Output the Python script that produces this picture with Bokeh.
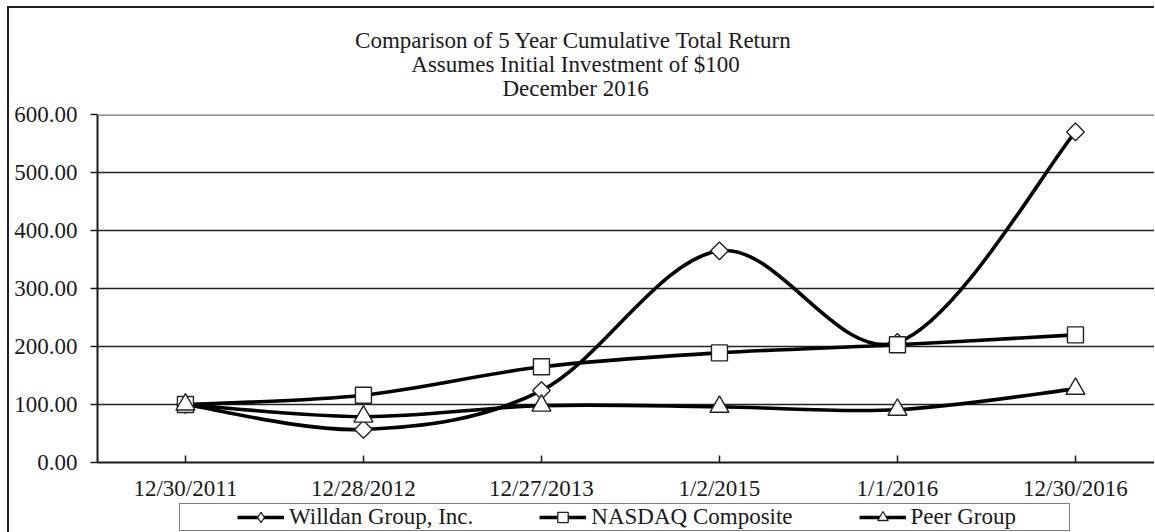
import math
from bokeh.plotting import figure
from bokeh.layouts import column
from bokeh.models import (Range1d, FixedTicker, NumeralTickFormatter, Legend, LegendItem,
                          Title, Span, ColumnDataSource)
from bokeh.embed import file_html
from bokeh.resources import INLINE

# ---------------- data ----------------
dates = ["12/30/2011", "12/28/2012", "12/27/2013", "1/2/2015", "1/1/2016", "12/30/2016"]
willdan = [100.0, 57.0, 124.0, 365.0, 207.0, 570.0]
nasdaq = [100.0, 116.0, 165.0, 189.0, 203.0, 220.0]
peer = [100.0, 79.0, 98.0, 96.0, 91.0, 127.0]
series_names = ["Willdan Group, Inc.", "NASDAQ Composite", "Peer Group"]
y_ticks = [0, 100, 200, 300, 400, 500, 600]
title_lines = ["Comparison of 5 Year Cumulative Total Return",
               "Assumes Initial Investment of $100",
               "December 2016"]

FONT = "Liberation Serif"
INK = "#1a1a1a"
FS = "23px"
xs = list(range(len(dates)))


def smooth_source(ys):
    """Cubic Bezier segments (Catmull-Rom style control points) like Excel's smoothed line."""
    n = len(ys)
    d = dict(x0=[], y0=[], x1=[], y1=[], cx0=[], cy0=[], cx1=[], cy1=[])
    for i in range(n - 1):
        pm = max(i - 1, 0)
        pp = min(i + 2, n - 1)
        d["x0"].append(xs[i]); d["y0"].append(ys[i])
        d["x1"].append(xs[i + 1]); d["y1"].append(ys[i + 1])
        d["cx0"].append(xs[i] + (xs[i + 1] - xs[pm]) / 6.0)
        d["cy0"].append(ys[i] + (ys[i + 1] - ys[pm]) / 6.0)
        d["cx1"].append(xs[i + 1] - (xs[pp] - xs[i]) / 6.0)
        d["cy1"].append(ys[i + 1] - (ys[pp] - ys[i]) / 6.0)
    return ColumnDataSource(d)


# ---------------- main chart ----------------
p = figure(frame_width=1057, frame_height=348, output_backend="svg", toolbar_location=None,
           x_range=Range1d(-0.494, 5.444), y_range=Range1d(0, 600),
           min_border_left=88, min_border_right=0, min_border_top=106, min_border_bottom=38)
p.background_fill_color = "white"
p.border_fill_color = "white"
p.outline_line_color = None

p.xgrid.grid_line_color = None
p.ygrid.grid_line_color = "#222222"
p.ygrid.grid_line_width = 1.5
p.yaxis.ticker = FixedTicker(ticks=y_ticks)
p.ygrid.ticker = FixedTicker(ticks=y_ticks[1:-1])
p.add_layout(Span(location=y_ticks[-1], dimension="width", line_color="#8a8a8a", line_width=3))

p.yaxis.formatter = NumeralTickFormatter(format="0.00")
p.yaxis.axis_line_color = INK
p.yaxis.axis_line_width = 2
p.yaxis.major_tick_out = 7
p.yaxis.major_tick_in = 0
p.yaxis.major_tick_line_color = INK
p.yaxis.major_tick_line_width = 1.5
p.yaxis.minor_tick_line_color = None
p.yaxis.major_label_standoff = 13
p.yaxis.major_label_text_font = FONT
p.yaxis.major_label_text_font_size = FS
p.yaxis.major_label_text_color = INK

p.xaxis.ticker = FixedTicker(ticks=xs)
p.xaxis.major_label_overrides = {i: d for i, d in zip(xs, dates)}
p.xaxis.axis_line_color = INK
p.xaxis.axis_line_width = 2
p.xaxis.major_tick_in = 7
p.xaxis.major_tick_out = 0
p.xaxis.major_tick_line_color = INK
p.xaxis.major_tick_line_width = 1.5
p.xaxis.minor_tick_line_color = None
p.xaxis.major_label_standoff = 13
p.xaxis.major_label_text_font = FONT
p.xaxis.major_label_text_font_size = FS
p.xaxis.major_label_text_color = INK

markers = ["square", "square", "triangle"]
angles = [math.pi / 4, 0, 0]
sizes = [12.5, 16, 19]
legend_markers = ["diamond", "square", "triangle"]
all_vals = [willdan, nasdaq, peer]

for vals in all_vals:
    p.bezier(x0="x0", y0="y0", x1="x1", y1="y1", cx0="cx0", cy0="cy0", cx1="cx1", cy1="cy1",
             source=smooth_source(vals), line_color="black", line_width=3.6)

for vals, mk, ang, sz in zip(all_vals, markers, angles, sizes):
    p.scatter(x=xs, y=vals, marker=mk, angle=ang, size=sz, fill_color="white",
              line_color="#222222", line_width=1.4)

# title lines (stacked from the frame upward)
neg_ok = True
try:
    Title(text="x", standoff=-3.5)
except Exception:
    neg_ok = False
line_standoff = -3.5 if neg_ok else 0
spacer_standoff = 11.9 if neg_ok else 10.2
p.add_layout(Title(text=" ", text_font_size="1px", standoff=spacer_standoff), "above")
offsets = [257.6, 313.8, 404.9]
for txt, off in reversed(list(zip(title_lines, offsets))):
    p.add_layout(Title(text=txt, align="left", offset=off, standoff=line_standoff,
                       vertical_align="bottom", text_font=FONT, text_font_size=FS,
                       text_font_style="normal", text_color=INK), "above")

# ---------------- legend strip ----------------
lf = figure(width=1145, height=29, output_backend="svg", toolbar_location=None,
            x_range=Range1d(0, 1), y_range=Range1d(0, 1),
            x_axis_type=None, y_axis_type=None, min_border=0)
lf.grid.visible = False
lf.outline_line_color = None
lf.background_fill_color = "white"
lf.border_fill_color = "white"

# legend key renderers: a single off-range key point each (never visible in the strip)
key_x = [-10]
key_y = [-10]
legend_items = []
for name, lmk in zip(series_names, legend_markers):
    key_line = lf.line(x=key_x, y=key_y, line_color="black", line_width=3.6)
    key_mark = lf.scatter(x=key_x, y=key_y, marker=lmk, fill_color="white",
                          line_color="#222222", line_width=1.3)
    legend_items.append(LegendItem(label=name, renderers=[key_line, key_mark]))

legend = Legend(items=legend_items, orientation="horizontal", location=(82, 1),
                padding=0, spacing=66, glyph_width=47, glyph_height=26,
                label_standoff=5, label_height=24, label_width=158,
                label_text_font=FONT, label_text_font_size=FS, label_text_color=INK,
                title=" ", title_location="left", title_text_font_size="1px",
                title_standoff=56,
                border_line_color="black", border_line_width=1.5,
                background_fill_color="white", margin=0)
lf.add_layout(legend, "center")

layout = column(p, lf, spacing=0,
                styles={"margin-left": "7px", "margin-top": "6px",
                        "border-left": "2px solid #222", "border-top": "2px solid #222"})

open("out.html", "w").write(file_html(layout, INLINE))
